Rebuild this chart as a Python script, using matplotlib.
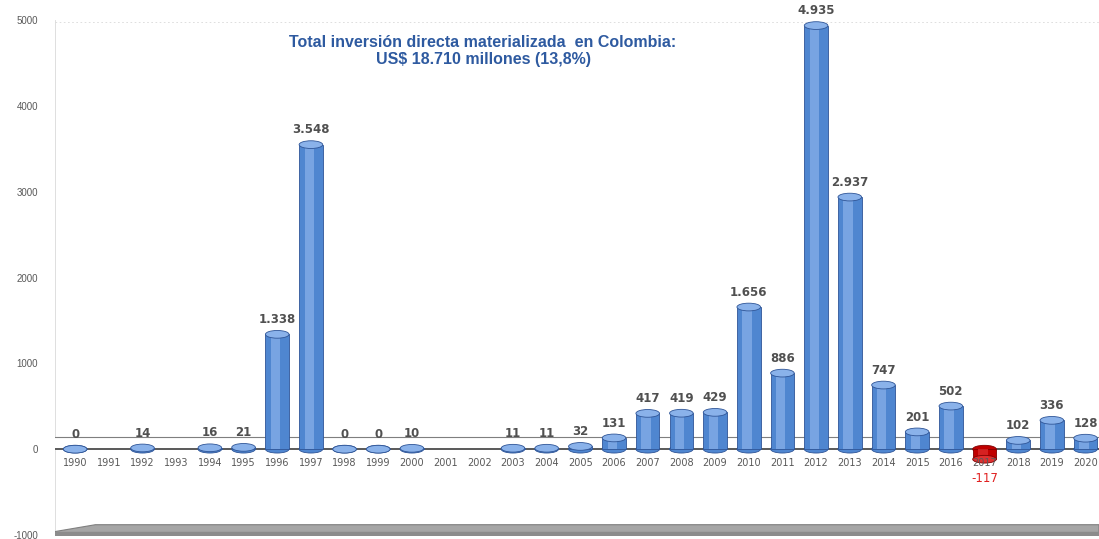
import matplotlib
matplotlib.use('Agg')

import matplotlib.pyplot as plt
from matplotlib.patches import Ellipse, Polygon
import numpy as np

plt.rcParams['font.family'] = ['Liberation Sans', 'DejaVu Sans']

years = [str(y) for y in range(1990, 2021)]
# None = no bar / no label for that year
values = [0, None, 14, None, 16, 21, 1338, 3548, 0, 0, 10, None, None, 11, 11, 32,
          131, 417, 419, 429, 1656, 886, 4935, 2937, 747, 201, 502, -117, 102, 336, 128]
y_ticks = [-1000, 0, 1000, 2000, 3000, 4000, 5000]
title_lines = ["Total inversión directa materializada  en Colombia:",
               "US$ 18.710 millones (13,8%)"]


def fmt(v):
    return f"{v:,}".replace(",", ".")


fig = plt.figure(figsize=(10.99, 5.39), dpi=100)
ax = fig.add_axes([0.05, 0.0074, 0.95, 0.9555])
ax.set_xlim(-0.6, 30.4)
ax.set_ylim(-1000, 5000)

# floor at zero (thin slab)
ax.fill_between([-0.6, 30.4], 0, 140, color='white', zorder=1)
ax.axhline(0, color='#595959', lw=1.4, zorder=1)
ax.axhline(140, color='#7f7f7f', lw=0.8, zorder=1)

# bottom platform near -1000
plat = Polygon([[-0.6, -1000], [30.4, -1000], [30.4, -880], [0.6, -880], [-0.6, -960]],
               closed=True, facecolor='#a6a6a6', edgecolor='#7f7f7f', lw=0.8, zorder=1)
ax.add_patch(plat)
ax.fill_between([-0.6, 30.4], -1000, -960, color='#8c8c8c', zorder=1)

# faint back wall edges
ax.axvline(-0.6, color='#d9d9d9', lw=0.6, zorder=0)
ax.plot([-0.6, 30.4], [4980, 4980], color='#d9d9d9', lw=0.6, ls=(0, (2, 3)), zorder=0)

x = np.arange(len(years))
w = 0.7
for i, v in enumerate(values):
    if v is None:
        continue
    if v < 0:
        face, light, edge = '#c00000', '#e03030', '#800000'
    else:
        face, light, edge = '#4f86d0', '#8ab2ea', '#2f5597'
    ax.bar(i, v, width=w, color=face, edgecolor=edge, lw=0.6, zorder=2)
    ax.bar(i - 0.05, v, width=w * 0.4, color=light, lw=0, alpha=0.7, zorder=3)
    ax.add_patch(Ellipse((i, v), w, 90, facecolor=light, edgecolor=edge, lw=0.6, zorder=4))
    ax.add_patch(Ellipse((i, 0), w, 90, facecolor=face,
                         edgecolor=edge, lw=0.6, zorder=1.5))
    if v < 0:
        ax.annotate(fmt(v), (i, v), xytext=(0, -9), textcoords='offset points',
                    ha='center', va='top', fontsize=8.5, color='#e02020',
                    family='DejaVu Sans', zorder=6)
    else:
        ax.annotate(fmt(v), (i, v), xytext=(0, 6), textcoords='offset points',
                    ha='center', va='bottom', fontsize=8.5, fontweight='bold',
                    color='#505050', family='DejaVu Sans')

for i, yr in enumerate(years):
    ax.text(i, -165, yr, ha='center', va='center', fontsize=7, color='#595959',
            family='DejaVu Sans', zorder=5)

ax.set_xticks([])
ax.set_yticks(y_ticks)
ax.set_yticklabels([str(t) for t in y_ticks], fontsize=7, color='#595959')
ax.tick_params(axis='y', length=0, pad=12)
for s in ax.spines.values():
    s.set_visible(False)

ax.text(0.41, 0.97, title_lines[0] + "\n" + title_lines[1], transform=ax.transAxes,
        ha='center', va='top', fontsize=11.5, fontweight='bold', color='#2e5aa0',
        linespacing=1.15, zorder=6)

fig.savefig('out.png', dpi=100)
